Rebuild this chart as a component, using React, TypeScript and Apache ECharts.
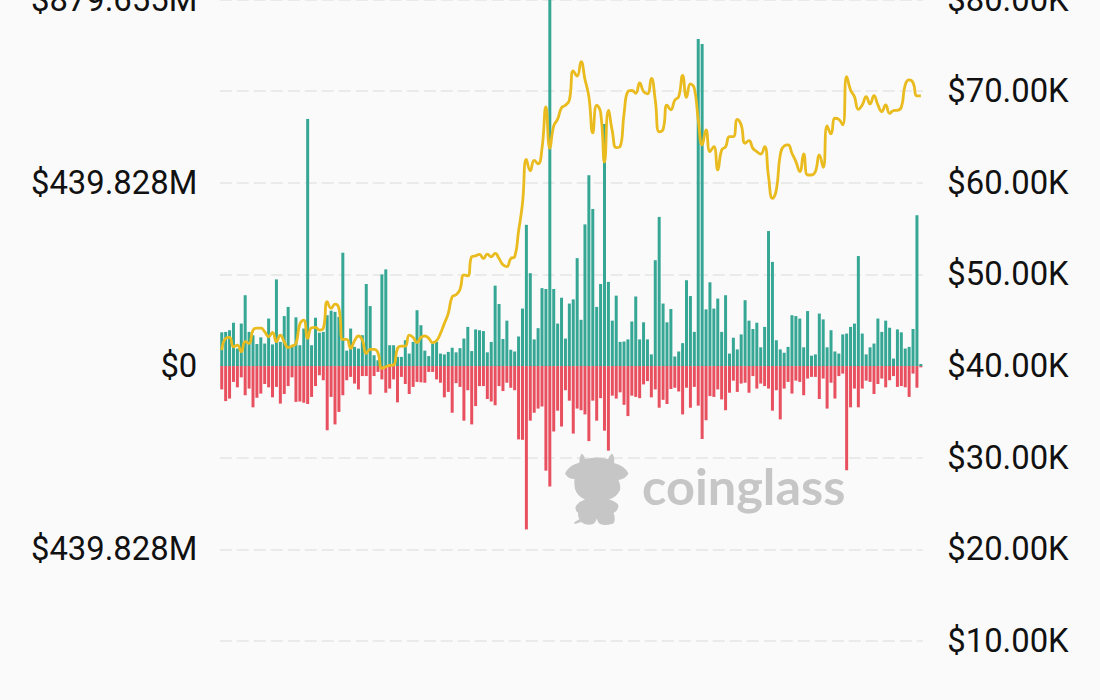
import React, { useEffect, useRef } from "react";
import * as echarts from "echarts";

const inflows: number[] = [
  81,82,86,104,42,102,170,82,74,53,69,54,114,52,208,58,120,142,46,117,50,90,593,50,116,80,82,122,133,130,118,272,37,90,46,42,74,197,144,26,14,220,232,50,50,22,22,62,30,58,134,98,37,24,54,58,30,28,34,44,
  33,43,66,94,36,88,86,84,33,58,193,149,65,109,39,35,71,138,339,223,64,91,187,185,950,185,102,164,66,150,160,259,111,340,458,377,142,197,581,202,109,169,58,59,64,107,167,64,105,64,28,254,358,150,105,137,23,35,55,206,
  168,82,785,773,136,201,138,162,82,170,30,68,40,76,158,109,89,104,45,94,324,250,62,40,32,46,122,120,114,45,132,25,28,126,112,45,86,35,30,76,78,94,102,264,78,28,45,54,114,82,109,92,18,88,81,42,46,89,362,5,
];

const outflows: number[] = [
  56,84,78,38,51,27,70,54,99,76,66,43,51,75,50,90,67,48,27,86,85,88,91,74,48,22,34,154,74,140,110,70,34,26,42,56,24,24,68,24,14,32,64,54,32,87,26,43,67,50,38,39,40,14,14,32,40,75,62,112,
  41,50,131,58,140,96,48,48,79,85,94,48,60,40,52,58,176,177,392,131,112,102,97,251,289,157,107,145,58,83,162,102,106,116,180,83,131,77,155,203,71,78,63,93,120,71,74,77,44,36,75,56,100,81,91,55,52,61,116,52,
  100,50,95,175,130,72,74,56,80,106,64,35,62,42,40,64,24,54,42,48,54,107,58,128,54,38,66,35,38,70,30,26,26,79,30,102,40,78,24,18,250,99,54,99,54,35,38,67,43,30,51,34,24,50,48,51,74,18,52,3,
].map((v) => -v);

const prices: number[] = [
  41750,43020,43130,42110,42290,41560,42660,42470,43930,44150,44150,43750,43200,43680,42660,43380,42660,42040,42180,42470,44590,45020,43020,44180,44220,43930,44110,47020,46300,46770,46300,42910,42910,41930,42770,43280,42840,41380,41820,41820,41460,39750,39930,40070,40110,41930,42180,42180,43380,43130,42550,43130,43280,43020,42550,42770,43570,44660,45750,47570,
  47780,48350,49960,49850,51920,52030,52180,51730,52220,51920,52290,51730,51050,50860,51730,51920,54740,57740,62550,61310,62440,62070,63760,68270,63760,66200,66950,68190,68460,69020,72210,71650,73230,71280,69400,65450,68460,67700,62250,67890,65640,63830,63950,67520,69960,70070,69770,70900,69960,69700,71390,69020,65560,65820,68460,67970,69020,69400,71730,69320,
  70790,70310,66860,64130,65760,63400,63940,61400,63580,63940,65040,65040,66930,66310,64310,64600,63760,63400,63140,63940,60670,58300,59210,63030,64020,64130,63220,62310,61220,63140,60850,60850,61220,63030,61690,66200,65330,67040,66930,66310,71590,70130,69400,68020,68490,69400,68600,69510,68490,67770,68490,67580,67880,67910,68240,70680,71220,70930,69480,69480,
];

const categories: string[] = prices.map((_, i) => String(i));
const leftTickStep = 219.914;
const leftTickLabels: Record<string, string> = {
  "0": "$0",
  "2": "$439.828M",
  "-2": "$439.828M",
  "4": "$879.655M",
};

const TEAL = "#36a795";
const RED = "#e8505f";
const GOLD = "#e9bb1e";
const GRID = "#e5e5e5";
const WATERMARK = "#c6c6c6";
const FONT = "Roboto";

const cowPath =
  "M581.7 453.5 Q584 455 585 459 Q597 456 608 459 Q610 455 612 453.5 Q615 456 614 463 Q625 466 628.5 473.5 Q625 479 618.5 480 Q621 486 620 490 Q617 497 609 499.5 Q618 502 618.5 506 Q618 511 613.5 513 Q616 519 613.5 523.5 Q606 526 600 524 Q597.5 522 596.7 518.5 Q596 522 593.3 524 Q586 526 581 522 L575 524 L574 522.5 L579.5 519 Q577.5 516 578.3 513 Q573.5 509 576.7 505 Q580 501 585 499.5 Q577 496 575 489 Q574 483 574.5 479 Q568 479 565 473.5 Q568 466 579.5 462.5 Q579 457 581.7 453.5 Z";

echarts.graphic.registerShape("cow", echarts.graphic.extendPath(cowPath, {}));

export default function App() {
  const ref = useRef<HTMLDivElement>(null);

  useEffect(() => {
    if (!ref.current) return;
    const chart = echarts.init(ref.current, undefined, { renderer: "svg" });
    chart.setOption({
      animation: false,
      backgroundColor: "#fafafa",
      grid: { left: 219.8, top: -0.5, width: 703, height: 641.5, outerBoundsMode: "none" },
      xAxis: { type: "category", data: categories, show: false, boundaryGap: true },
      yAxis: [
        {
          type: "value",
          min: -3 * leftTickStep,
          max: 4 * leftTickStep,
          interval: leftTickStep,
          axisLine: { show: false },
          axisTick: { show: false },
          splitLine: { show: true, lineStyle: { color: GRID, width: 1.6, type: [12, 5] } },
          axisLabel: {
            margin: 22.5,
            color: "#111111",
            fontFamily: FONT,
            fontSize: 32.8,
            showMinLabel: true,
            showMaxLabel: true,
            formatter: (v: number) => leftTickLabels[String(Math.round(v / leftTickStep))] ?? "",
          },
        },
        {
          type: "value",
          position: "right",
          min: 10000,
          max: 80000,
          interval: 10000,
          axisLine: { show: false },
          axisTick: { show: false },
          splitLine: { show: false },
          axisLabel: {
            margin: 24.5,
            color: "#111111",
            fontFamily: FONT,
            fontSize: 32.8,
            formatter: (v: number) => `$${(v / 1000).toFixed(2)}K`,
          },
        },
      ],
      series: [
        { name: "Inflow", type: "bar", stack: "flow", data: inflows, barWidth: 3, itemStyle: { color: TEAL } },
        { name: "Outflow", type: "bar", stack: "flow", data: outflows, barWidth: 3, itemStyle: { color: RED } },
        {
          name: "Price",
          type: "line",
          yAxisIndex: 1,
          data: prices,
          smooth: 0.5,
          showSymbol: false,
          lineStyle: { color: GOLD, width: 2.8 },
          z: 5,
        },
      ],
      graphic: [
        { type: "cow", x: 0, y: 0, z: 10, style: { fill: WATERMARK } },
        {
          type: "text",
          x: 642,
          y: 460,
          z: 10,
          style: { text: "coinglass", fill: WATERMARK, font: "700 50.5px Lato", textBaseline: "top" },
        },
      ],
    });
    return () => chart.dispose();
  }, []);

  return <div ref={ref} style={{ position: "absolute", left: 0, top: 0, width: 1100, height: 700 }} />;
}
